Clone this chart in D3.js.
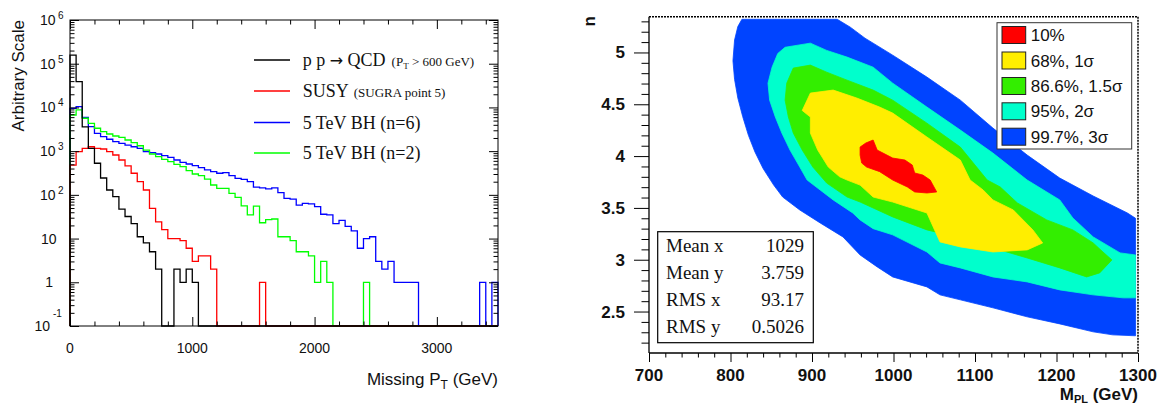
<!DOCTYPE html>
<html><head><meta charset="utf-8">
<script src="https://cdn.jsdelivr.net/npm/d3@7"></script>
<style>body{margin:0;background:#fff}svg{display:block}</style>
</head><body>
<svg id="c" width="1168" height="405"></svg>
<script>
// ---------------- DATA ----------------
const binWidth = 50; // GeV, 70 bins 0..3500
const qcd  = [158000,38800,3600,1160,528,243,129,91,47,32,22,11,8,5,2,0,0,2,1,2,1];
const susy = [480,970,1160,1260,1160,1120,970,817,628,458,312,200,129,49,24,16,10,10,9,6,3,4,4,2,0,0,0,0,0,0,0,1];
const bh6  = [9550,10400,5950,3630,2560,2140,1870,1650,1510,1380,1260,1160,973,923,861,787,722,628,556,508,464,419,371,339,312,322,275,239,
              225,200,150,145,137,145,112,83,80,58,64,62,54,36,35,22,26,19,15,6,10,11,3,2,3,1,1,1,1,0,0,0,0,0,0,0,0,0,0,1,0,1];
const bh2  = [6720,8750,5650,4340,3340,2790,2470,2220,2070,1800,1560,1330,1060,861,747,650,574,500,441,358,300,275,230,
              168,141,141,108,88,56,35,55,23,27,28,11,11,9,5,5,4,1,3,1,0,0,0,0,0,1];
const histNames  = ["bh6","bh2","susy","qcd"];
const legendMain = ["p p ","SUSY","5 TeV BH (n=6)","5 TeV BH (n=2)"];
const legendSmall= ["qcd","(SUGRA point 5)","",""];
const leftXTicks = [0,1000,2000,3000];
const leftYExp   = [-1,0,1,2,3,4,5,6];

// contour levels (outer to inner), polygons in (M_PL [GeV], n)
const levelNames = ["99.7%, 3\u03c3","95%, 2\u03c3","86.6%, 1.5\u03c3","68%, 1\u03c3","10%"];
const levelColors= ["#0044ff","#00ffcc","#33ee00","#ffee00","#ff0000"];
const cl997 = [[814,5.32],[931,5.32],[947,5.244],[965,5.138],[999,4.974],[1041,4.762],[1082,4.54],[1122,4.27],[1164,4.01],[1204,3.788],
  [1245,3.615],[1287,3.451],[1297,3.40],[1297,2.266],[1269,2.275],[1245,2.304],[1204,2.381],[1164,2.449],[1122,2.536],[1082,2.613],
  [1057,2.661],[1041,2.738],[999,2.834],[980,2.931],[959,3.046],[938,3.22],[910,3.355],[885,3.48],[864,3.605],[853,3.72],[840,3.88],
  [830,4.04],[822,4.2],[815,4.38],[809,4.56],[805,4.74],[803,4.92],[805,5.12],[809,5.25]];
const cl95 = [[858,4.99],[867,5.05],[898,5.09],[918,5.02],[943,4.955],[975,4.858],[999,4.704],[1041,4.473],[1082,4.251],[1122,4.029],
  [1164,3.769],[1204,3.577],[1220,3.403],[1245,3.22],[1278,3.066],[1297,3.046],[1297,2.632],[1282,2.632],[1245,2.661],[1204,2.709],
  [1164,2.786],[1122,2.834],[1082,2.921],[1057,2.969],[1041,3.075],[999,3.24],[975,3.30],[959,3.384],[950,3.451],[926,3.577],
  [910,3.673],[894,3.769],[885,3.894],[873,4.058],[863,4.222],[855,4.377],[848,4.54],[846,4.704],[851,4.858]];
const cl866 = [[877,4.849],[898,4.878],[918,4.81],[943,4.733],[975,4.637],[999,4.54],[1041,4.318],[1082,4.087],[1115,3.769],
  [1131,3.702],[1152,3.548],[1188,3.384],[1220,3.288],[1245,3.162],[1257,3.075],[1268,2.998],[1253,2.873],[1237,2.834],[1204,2.921],
  [1164,3.017],[1122,3.114],[1082,3.21],[1041,3.288],[999,3.413],[959,3.557],[943,3.605],[918,3.74],[901,3.894],[888,4.058],
  [877,4.222],[871,4.377],[867,4.54],[869,4.704]];
const cl68 = [[898,4.608],[926,4.637],[955,4.56],[983,4.473],[999,4.415],[1041,4.184],[1082,3.962],[1094,3.769],[1110,3.673],
  [1122,3.577],[1147,3.48],[1159,3.384],[1171,3.288],[1183,3.162],[1164,3.095],[1122,3.075],[1082,3.124],[1057,3.172],[1041,3.451],
  [999,3.557],[975,3.605],[959,3.72],[943,3.769],[934,3.80],[920,3.894],[907,4.058],[898,4.222],[898,4.377],[888,4.44]];
const cl10 = [[959,4.087],[966,4.126],[975,4.155],[980,4.058],[999,3.981],[1014,3.962],[1023,3.914],[1026,3.837],[1036,3.817],
  [1045,3.769],[1053,3.654],[1041,3.644],[1026,3.654],[1017,3.702],[999,3.769],[983,3.85],[967,3.894],[961,3.933],[959,4.01]];
const statLabels = ["Mean x","Mean y","RMS x","RMS y"];
const statValues = ["1029","3.759","93.17","0.5026"];
const rightXTicks = [700,800,900,1000,1100,1200,1300];
const rightYTicks = [2.5,3,3.5,4,4.5,5];

// ---------------- DRAW ----------------
const svg = d3.select("#c");
const SANS = "Liberation Sans, Arial, Helvetica, sans-serif";
const SERIF = "Liberation Serif, Times New Roman, serif";
const hists = {qcd, susy, bh6, bh2};
const histColors = {qcd:"#000000", susy:"#ff0000", bh6:"#0000ff", bh2:"#00ff00"};

// ===== left panel =====
const xL = d3.scaleLinear().domain([0,3500]).range([70,498]);
const yL = d3.scaleLog().domain([0.1,1e6]).range([326,20]);
const L = svg.append("g");

const stepLine = d3.line().x(d=>xL(d[0])).y(d=>yL(Math.max(d[1],0.1)));
function stepPts(arr){
  const n = 3500/binWidth, pts=[[0,0.1]];
  for(let i=0;i<n;i++){ const v = arr[i]||0; pts.push([i*binWidth,v],[(i+1)*binWidth,v]); }
  pts.push([3500,0.1]); return pts;
}
histNames.forEach(k=>{
  L.append("path").attr("d",stepLine(stepPts(hists[k]))).attr("fill","none")
   .attr("stroke",histColors[k]).attr("stroke-width",1.3).attr("stroke-linejoin","miter");
});

L.append("rect").attr("x",70).attr("y",20).attr("width",428).attr("height",306)
  .attr("fill","none").attr("stroke","#000").attr("stroke-width",1);

function tickG(parent, axisGen, tr){
  const g = parent.append("g").attr("transform",tr).call(axisGen);
  g.select(".domain").remove(); g.selectAll("text").remove();
  g.selectAll("line").attr("stroke","#000").attr("stroke-width",1);
  return g;
}
const yMaj = leftYExp.map(e=>Math.pow(10,e));
const yMin = []; leftYExp.slice(0,-1).forEach(e=>{for(let m=2;m<=9;m++) yMin.push(m*Math.pow(10,e));});
tickG(L, d3.axisRight(yL).tickValues(yMaj).tickSize(9), "translate(70,0)");
tickG(L, d3.axisRight(yL).tickValues(yMin).tickSize(4.5), "translate(70,0)");
tickG(L, d3.axisLeft(yL).tickValues(yMaj).tickSize(9), "translate(498,0)");
tickG(L, d3.axisLeft(yL).tickValues(yMin).tickSize(4.5), "translate(498,0)");
const xMinL = d3.range(200,3500,200).filter(v=>v%1000!==0);
tickG(L, d3.axisTop(xL).tickValues(leftXTicks).tickSize(9), "translate(0,326)");
tickG(L, d3.axisTop(xL).tickValues(xMinL).tickSize(4.5), "translate(0,326)");
tickG(L, d3.axisBottom(xL).tickValues(leftXTicks).tickSize(9), "translate(0,20)");
tickG(L, d3.axisBottom(xL).tickValues(xMinL).tickSize(4.5), "translate(0,20)");

// tick labels
leftXTicks.forEach(v=>{
  L.append("text").attr("x",xL(v)).attr("y",352.5).attr("text-anchor","middle")
   .attr("font-family",SANS).attr("font-size",14).attr("fill","#111").text(v);
});
leftYExp.forEach(e=>{
  const y = yL(Math.pow(10,e));
  const t = (s,x,yy,fs,anc)=>L.append("text").attr("x",x).attr("y",yy).attr("text-anchor",anc)
      .attr("font-family",SANS).attr("font-size",fs).attr("fill","#111").text(s);
  if(e===0) t("1",53,y+5,14,"end");
  else if(e===1) t("10",56.5,y+5,14,"end");
  else if(e===-1){ t("10",50,y+5,14,"end"); t("-1",53,y-9,10,"start"); }
  else { t("10",55.5,y+5,14,"end"); t(String(e),58,y-1,10,"start"); }
});
// axis titles
L.append("text").attr("transform","translate(23.5,20) rotate(-90)").attr("text-anchor","end")
  .attr("font-family",SANS).attr("font-size",17).attr("fill","#111").text("Arbitrary Scale");
const xt = L.append("text").attr("x",498).attr("y",385).attr("text-anchor","end")
  .attr("font-family",SANS).attr("font-size",17).attr("fill","#111");
xt.append("tspan").text("Missing P");
xt.append("tspan").attr("dy",4).attr("font-size",12).text("T");
xt.append("tspan").attr("dy",-4).text(" (GeV)");

// legend
const legY = [60,91,122.5,153];
["qcd","susy","bh6","bh2"].forEach((k,i)=>{
  L.append("line").attr("x1",254).attr("x2",290).attr("y1",legY[i]).attr("y2",legY[i])
   .attr("stroke",histColors[k]).attr("stroke-width",1.3);
  const t = L.append("text").attr("x",302.7).attr("y",legY[i]+6).attr("font-family",SERIF)
   .attr("font-size",18).attr("fill","#111");
  t.append("tspan").text(legendMain[i]);
  if(k==="qcd"){
    t.append("tspan").attr("font-family","DejaVu Sans").attr("font-size",16).text("\u2192");
    t.append("tspan").text(" QCD");
    t.append("tspan").attr("font-size",13).attr("dx",6).text("(P");
    t.append("tspan").attr("font-size",9).attr("dy",3).text("T");
    t.append("tspan").attr("font-size",13).attr("dy",-3).text(" > 600 GeV)");
  } else if(legendSmall[i]){
    t.append("tspan").attr("font-size",13).attr("dx",5).text(legendSmall[i]);
  }
});

// ===== right panel =====
const xR = d3.scaleLinear().domain([700,1300]).range([649,1138]);
const yR = d3.scaleLinear().domain([2.1,5.345]).range([353,16.7]);
const R = svg.append("g");
const poly = d3.line().x(d=>xR(d[0])).y(d=>yR(d[1])).curve(d3.curveLinearClosed);
[cl997,cl95,cl866,cl68,cl10].forEach((p,i)=>{
  R.append("path").attr("d",poly(p)).attr("fill",levelColors[i]).attr("stroke",levelColors[i]).attr("stroke-width",0.8);
});

// frame
R.append("line").attr("x1",649).attr("x2",649).attr("y1",16.7).attr("y2",353).attr("stroke","#000").attr("stroke-width",1.3);
R.append("line").attr("x1",649).attr("x2",1138).attr("y1",353).attr("y2",353).attr("stroke","#000").attr("stroke-width",1.3);
R.append("line").attr("x1",649).attr("x2",1138).attr("y1",16.7).attr("y2",16.7).attr("stroke","#000").attr("stroke-width",1.5).attr("stroke-dasharray","2,1");
R.append("line").attr("x1",1138).attr("x2",1138).attr("y1",16.7).attr("y2",353).attr("stroke","#000").attr("stroke-width",1.5).attr("stroke-dasharray","2,1");

const yMinR = d3.range(22,54).map(v=>v/10).filter(v=>Math.abs(v*2-Math.round(v*2))>1e-6);
tickG(R, d3.axisLeft(yR).tickValues(rightYTicks).tickSize(15), "translate(649,0)");
tickG(R, d3.axisLeft(yR).tickValues(yMinR).tickSize(7.5), "translate(649,0)");
const xMinR = d3.range(720,1300,20).filter(v=>v%100!==0);
tickG(R, d3.axisBottom(xR).tickValues(rightXTicks).tickSize(9), "translate(0,353)");
tickG(R, d3.axisBottom(xR).tickValues(xMinR).tickSize(4.5), "translate(0,353)");

rightYTicks.forEach(v=>{
  R.append("text").attr("x",625).attr("y",yR(v)+6).attr("text-anchor","end").attr("font-family",SANS)
   .attr("font-weight","bold").attr("font-size",17).attr("fill","#111").text(v);
});
rightXTicks.forEach(v=>{
  R.append("text").attr("x",xR(v)).attr("y",380.5).attr("text-anchor","middle").attr("font-family",SANS)
   .attr("font-weight","bold").attr("font-size",17).attr("fill","#111").text(v);
});
R.append("text").attr("transform","translate(595,16) rotate(-90)").attr("text-anchor","end")
  .attr("font-family",SANS).attr("font-weight","bold").attr("font-size",17).attr("fill","#111").text("n");
const mt = R.append("text").attr("x",1138).attr("y",400).attr("text-anchor","end").attr("font-family",SANS)
  .attr("font-weight","bold").attr("font-size",17).attr("fill","#111");
mt.append("tspan").text("M");
mt.append("tspan").attr("dy",2.5).attr("font-size",11).text("PL");
mt.append("tspan").attr("dy",-2.5).text(" (GeV)");

// legend
R.append("rect").attr("x",997).attr("y",22.7).attr("width",134.7).attr("height",126.3)
  .attr("fill","#fff").attr("stroke","#333").attr("stroke-width",1);
const legRowY = [35,60.5,86,111.3,136.7];
const legOrder = [4,3,2,1,0];
legOrder.forEach((li,i)=>{
  R.append("rect").attr("x",1002).attr("y",legRowY[i]-8.5).attr("width",23.7).attr("height",17)
   .attr("fill",levelColors[li]).attr("stroke","#222").attr("stroke-width",1);
  R.append("text").attr("x",1030.7).attr("y",legRowY[i]+6).attr("font-family",SANS).attr("font-size",17)
   .attr("fill","#111").text(levelNames[li]);
});

// stats box
R.append("rect").attr("x",657.7).attr("y",231.7).attr("width",155.6).attr("height",111)
  .attr("fill","#fff").attr("stroke","#000").attr("stroke-width",1.2);
const statY = [251.5,279,306,333];
statLabels.forEach((s,i)=>{
  R.append("text").attr("x",666).attr("y",statY[i]).attr("font-family",SERIF).attr("font-size",19).attr("fill","#111").text(s);
  R.append("text").attr("x",804).attr("y",statY[i]).attr("text-anchor","end").attr("font-family",SERIF).attr("font-size",19).attr("fill","#111").text(statValues[i]);
});
</script>
</body></html>
